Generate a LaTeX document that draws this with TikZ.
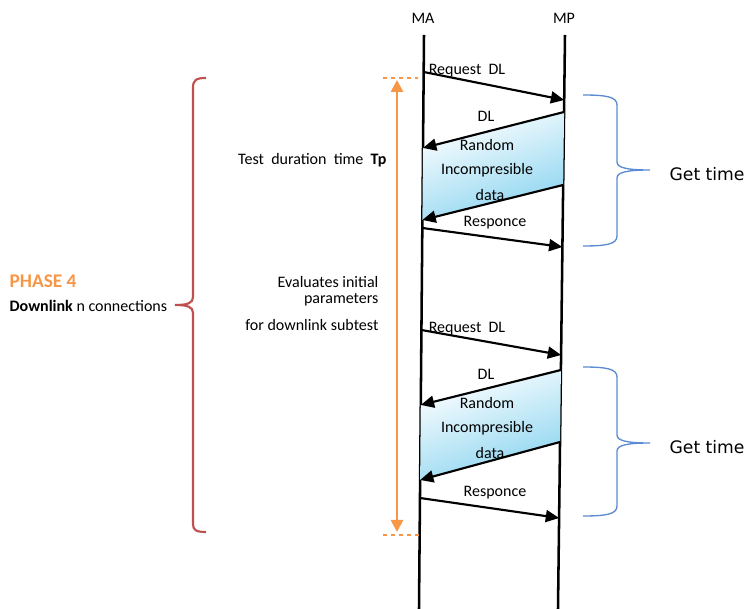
\documentclass[tikz,border=0pt]{standalone}
\usepackage{fontspec}
\setmainfont{Carlito}
\newfontfamily\timefont{DejaVu Sans}
\usetikzlibrary{arrows.meta, calc}
\definecolor{phaseorange}{HTML}{F79646}
\definecolor{phasered}{HTML}{C0504D}
\definecolor{timeblue}{HTML}{5B8BD0}
\definecolor{datablue}{HTML}{8AD4F0}

\tikzset{
  msg/.style={-{Triangle[length=10pt,width=9pt]}, line width=1.6pt},
  lifeline/.style={line width=1.9pt},
  lbl/.style={font=\fontsize{12}{14}\selectfont, inner sep=1pt},
  bracket/.style={line width=1pt},
}

\begin{document}
\begin{tikzpicture}[x=0.75pt, y=-0.75pt]
  \useasboundingbox (0,0) rectangle (747,609);

  % lifelines
  \coordinate (ma top) at (424,35);
  \coordinate (ma bot) at (419,609);
  \coordinate (mp top) at (565,35);
  \coordinate (mp bot) at (558,609);
  \node[lbl] (ma) at (423,18) {MA};
  \node[lbl] (mp) at (564,18) {MP};
  \draw[lifeline] (ma top) -- (ma bot);
  \draw[lifeline] (mp top) -- (mp bot);

  % two rounds: request, random data, response
  \foreach \g/\ya/\yb/\yc/\yd/\ye/\yf/\yg/\yh in {1/72/100/112/148/185/220/228/247, 2/330/355/370/405/442/480/498/518}{
    \coordinate (req\g a) at ($(ma top)!{(\ya-35)/574}!(ma bot)$);
    \coordinate (req\g b) at ($(mp top)!{(\yb-35)/574}!(mp bot)$);
    \coordinate (dl\g a) at ($(mp top)!{(\yc-35)/574}!(mp bot)$);
    \coordinate (dl\g b) at ($(ma top)!{(\yd-35)/574}!(ma bot)$);
    \coordinate (dat\g a) at ($(mp top)!{(\ye-35)/574}!(mp bot)$);
    \coordinate (dat\g b) at ($(ma top)!{(\yf-35)/574}!(ma bot)$);
    \coordinate (res\g a) at ($(ma top)!{(\yg-35)/574}!(ma bot)$);
    \coordinate (res\g b) at ($(mp top)!{(\yh-35)/574}!(mp bot)$);
    \shade[top color=white, bottom color=datablue, shading angle=20]
      (dl\g a) -- (dl\g b) -- (dat\g b) -- (dat\g a) -- cycle;
    \draw[msg] (req\g a) -- (req\g b);
    \draw[msg] (dl\g a) -- (dl\g b);
    \draw[msg] (dat\g a) -- (dat\g b);
    \draw[msg] (res\g a) -- (res\g b);
    \node[lbl] (reqlbl\g) at (467,{\ya-1}) {Request\ \ DL};
    \node[lbl] (dllbl\g) at (486,{\yc+4}) {DL};
    \node[lbl] (rnd\g) at (487,{\yc+33}) {Random};
    \node[lbl] (inc\g) at (487,{\yc+58}) {Incompresible};
    \node[lbl] (dat\g) at (490,{\yc+83}) {data};
    \node[lbl] (reslbl\g) at (495,{\yg-5}) {Responce};
  }

  % test duration
  \coordinate (tp top) at (397,80);
  \coordinate (tp bot) at (397,532);
  \draw[phaseorange, dashed, line width=1pt] (383,78) -- (418,78);
  \draw[phaseorange, dashed, line width=1pt] (383,535) -- (420,535);
  \draw[phaseorange, line width=2pt, {Triangle[length=9pt,width=9pt]}-{Triangle[length=9pt,width=9pt]}] (tp top) -- (tp bot);
  \node[lbl, anchor=east] (tpl) at (388,160) {Test\ \ duration\ \ time\ \ \textbf{Tp}};
  \node[lbl, anchor=east] (ev1) at (380,282) {Evaluates initial};
  \node[lbl, anchor=east] (ev2) at (380,300) {parameters};
  \node[lbl, anchor=east] (ev3) at (380,325) {for downlink subtest};

  % phase brace
  \draw[phasered, bracket, line width=1.6pt] (206,78) .. controls (196,78) and (193,80) .. (193,88)
    -- (193,297) .. controls (193,303) and (188,305) .. (175,305)
    .. controls (188,305) and (193,307) .. (193,313) -- (193,524)
    .. controls (193,530) and (196,532) .. (206,532);
  \node[lbl, anchor=west, font=\fontsize{14.5}{16}\selectfont\bfseries, text=phaseorange] (phase) at (8,281) {PHASE 4};
  \node[lbl, anchor=west] (dlink) at (8,306) {\textbf{Downlink} n connections};

  % get time braces
  \foreach \i/\ya/\ym/\yb in {1/95/170/246, 2/367/443/516}{
    \draw[timeblue, bracket] (583,\ya) .. controls (607,\ya) and (617,{\ya+2}) .. (617,{\ya+10})
      -- (617,{\ym-8}) .. controls (617,{\ym-2}) and (628,\ym) .. (650,\ym)
      .. controls (628,\ym) and (617,{\ym+2}) .. (617,{\ym+8})
      -- (617,{\yb-10}) .. controls (617,{\yb-2}) and (607,\yb) .. (583,\yb);
    \node[anchor=west, font=\timefont\fontsize{12.9}{15}\selectfont, inner sep=1pt] (gt\i) at (668,{\ym+4}) {Get time};
  }
\end{tikzpicture}
\end{document}
